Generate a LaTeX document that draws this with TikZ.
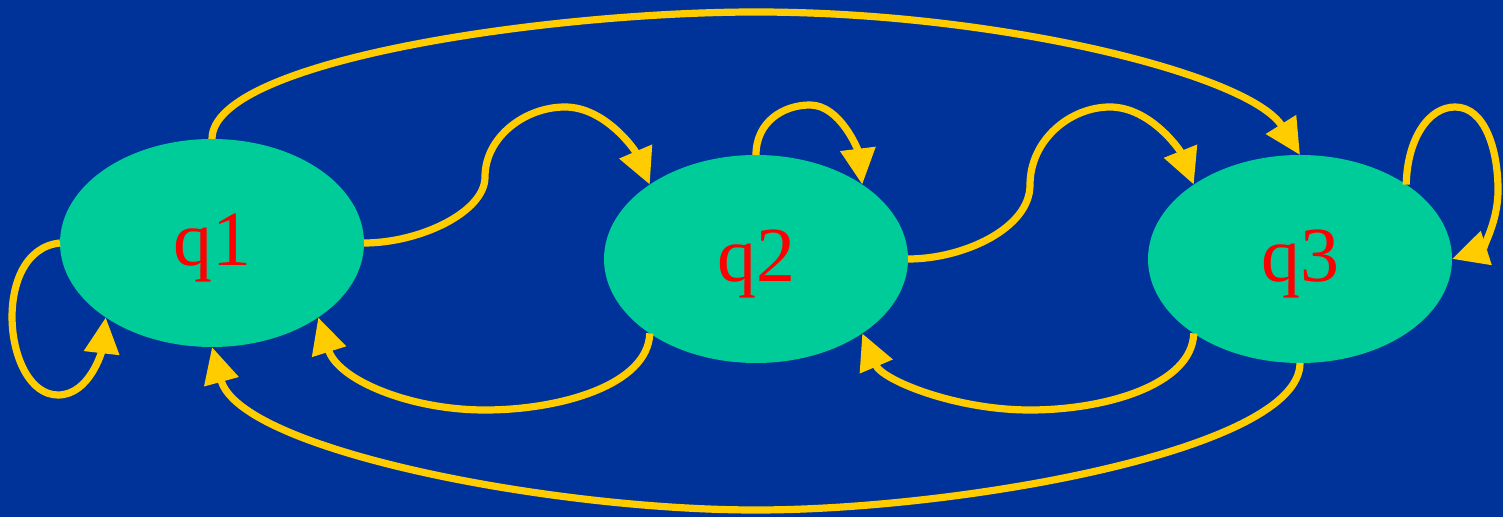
\documentclass[tikz,border=0pt]{standalone}
\usepackage{fontspec}
\setmainfont{Liberation Serif}
\usetikzlibrary{shapes.geometric,arrows.meta}
\definecolor{bg}{HTML}{003399}
\definecolor{st}{HTML}{00CC99}
\definecolor{gold}{HTML}{FFCC00}
\begin{document}
\begin{tikzpicture}[x=0.5pt,y=-0.5pt,
  state/.style={ellipse,fill=st,draw=none,inner sep=0pt,outer sep=0pt,
    minimum width=152pt,minimum height=104pt,text=red,
    text height=31pt,text depth=8.5pt,
    font=\fontsize{39}{41}\selectfont},
  conn/.style={draw=gold,line width=3.6pt,
    -{Triangle[length=18pt,width=17pt]}}]
\fill[bg] (0,0) rectangle (1503,517);
\useasboundingbox (0,0) rectangle (1503,517);
\node[state] (q1) at (212,243) {q1};
\node[state] (q2) at (756,259) {q2};
\node[state] (q3) at (1300,259) {q3};
% self loops
\draw[conn] (q1.180) .. controls (-10,250) and (3,395) .. (58,395)
  .. controls (90,395) and (102,350) .. (q1.215);
\draw[conn] (q2.north) .. controls (756,122) and (783,105) .. (810,105)
  .. controls (840,105) and (858,150) .. (q2.35);
\draw[conn] (q3.35) .. controls (1407,140) and (1428,107) .. (1455,107)
  .. controls (1485,107) and (1498,150) .. (1498,190)
  .. controls (1498,225) and (1480,250) .. (q3.east);
% forward short
\draw[conn] (q1.east) .. controls (420,243) and (485,212) .. (485,177)
  .. controls (485,137) and (525,107) .. (565,107)
  .. controls (605,107) and (635,150) .. (q2.145);
\draw[conn] (q2.east) .. controls (964,259) and (1030,228) .. (1030,185)
  .. controls (1030,140) and (1070,107) .. (1110,107)
  .. controls (1150,107) and (1180,150) .. (q3.145);
% backward short
\draw[conn] (q2.215) .. controls (648,385) and (560,410) .. (485,410)
  .. controls (410,410) and (338,380) .. (q1.325);
\draw[conn] (q3.215) .. controls (1192,385) and (1105,410) .. (1030,410)
  .. controls (955,410) and (882,380) .. (q2.325);
% long arcs
\draw[conn] (q1.north) .. controls (212,60) and (550,12) .. (756,12)
  .. controls (1000,12) and (1250,75) .. (q3.north);
\draw[conn] (q3.south) .. controls (1300,450) and (960,510) .. (756,510)
  .. controls (550,510) and (240,450) .. (q1.south);
\end{tikzpicture}
\end{document}
